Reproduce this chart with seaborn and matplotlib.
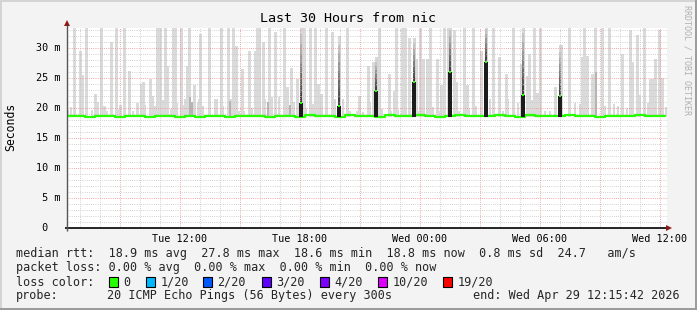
import numpy as np
import matplotlib
matplotlib.use("Agg")
import matplotlib.pyplot as plt
import seaborn as sns
from matplotlib.patches import Rectangle
from matplotlib.ticker import MultipleLocator, FuncFormatter

# ---------------- data (time = hours since Tue 00:00) ----------------
x_start, x_end = 6.35, 36.35
tick_hours = [12, 18, 24, 30, 36]
tick_labels = ["Tue 12:00", "Tue 18:00", "Wed 00:00", "Wed 06:00", "Wed 12:00"]
y_ticks = [0, 5, 10, 15, 20, 25, 30]
y_tick_labels = [" 0", " 5 m", "10 m", "15 m", "20 m", "25 m", "30 m"]

# tall smoke columns: time and max rtt (ms)
smoke_t = [6.725, 7.025, 7.1, 7.3, 7.75, 7.85, 8.05, 8.2, 8.55, 8.8, 9.2, 9.45,
           9.85, 10.05, 10.15, 10.5, 10.6, 10.875, 11.0, 11.1, 11.25, 11.35, 11.65,
           11.75, 12.05, 12.25, 12.35, 12.45, 12.7, 12.95, 13.025, 13.45, 13.8,
           14.05, 14.4, 14.65, 14.8, 15.1, 15.45, 15.75, 15.85, 15.95, 16.15, 16.45,
           16.75, 17.2, 17.35, 17.55, 17.85, 18.2, 18.5, 18.75, 18.9, 19.05, 19.3,
           19.6, 20.35, 20.95, 21.4, 21.65, 21.95, 22.45, 22.7, 22.8, 23.1, 23.25,
           23.45, 23.8, 24.0, 24.15, 24.35, 24.5, 24.85, 25.05, 25.2, 25.4, 25.7,
           25.8, 26.2, 26.35, 26.65, 27.05, 27.65, 27.95, 28.3, 28.65, 29.05, 29.35,
           29.45, 29.7, 29.85, 30.0, 30.75, 31.05, 31.45, 32.1, 32.2, 32.4, 32.65,
           32.8, 33.1, 33.45, 34.15, 34.5, 34.6, 34.85, 35.2, 35.5, 35.65, 35.8,
           35.95, 36.15]
smoke_max = [34.0, 29.6, 25.5, 34.0, 22.4, 21.0, 34.0, 20.4, 31.0, 34.0, 34.0, 26.3,
             20.8, 24.1, 24.3, 24.9, 22.0, 34.0, 34.0, 21.3, 34.0, 27.1, 34.0,
             34.0, 34.0, 21.5, 27.0, 34.0, 23.9, 21.5, 32.4, 34.0, 21.5,
             34.0, 34.0, 34.0, 30.4, 26.5, 29.6, 29.6, 34.0, 34.0, 31.0, 34.0,
             32.7, 34.0, 23.5, 26.8, 24.9, 34.0, 34.0, 34.0, 24.1, 22.4, 34.0,
             32.7, 34.0, 22.0, 27.1, 27.7, 34.0, 25.7, 22.9, 34.0, 34.0, 34.0,
             31.8, 28.2, 34.0, 28.3, 28.3, 34.0, 28.2, 23.9, 34.0, 34.0, 33.0,
             24.3, 34.0, 23.9, 34.0, 29.5, 34.0, 28.5, 25.7, 34.0, 27.4, 25.4,
             29.1, 34.0, 22.5, 34.0, 23.5, 30.5, 34.0, 28.5, 34.0, 28.8, 25.7,
             34.0, 34.0, 34.0, 29.1, 33.0, 27.7, 32.2, 34.0, 24.9, 24.9, 28.2,
             33.0, 25.1]

# low smoke just above the median
small_t = [6.4, 6.55, 7.6, 7.9, 8.35, 8.6, 8.95, 9.03, 9.65, 10.25, 10.75, 11.55,
           11.85, 12.15, 12.9, 13.15, 13.75, 14.15, 14.55, 14.95, 15.2, 15.6, 16.25,
           16.6, 16.95, 17.7, 18.3, 18.65, 19.75, 20.15, 20.5, 20.85, 21.15, 21.5,
           22.1, 22.55, 22.9, 23.95, 24.65, 24.95, 25.95, 26.45, 26.8, 27.5, 28.15,
           28.4, 28.9, 29.6, 30.25, 30.5, 31.75, 32.0, 33.25, 33.7, 33.9, 34.35,
           35.0, 35.4, 36.3]
small_max = [19.7, 20.2, 19.7, 21.0, 19.5, 19.4, 19.8, 20.5, 19.5, 20.5, 20.3, 19.8,
             20.8, 20.6, 20.8, 20.3, 21.5, 20.3, 21.5, 19.6, 19.6, 20.1, 21.6,
             21.8, 21.8, 21.0, 20.1, 20.7, 21.6, 21.5, 19.6, 19.5, 19.4, 20.8,
             19.9, 19.6, 19.7, 19.6, 20.2, 19.5, 19.6, 20.0, 20.3, 21.5, 19.6,
             21.6, 20.8, 21.4, 19.6, 19.5, 20.8, 20.7, 20.3, 20.7, 20.3, 20.0,
             22.2, 20.8, 20.2]

# denser (mid-gray) smoke
mid_t = [12.5, 12.6, 14.5, 16.4, 17.5, 32.8]
mid_max = [21.8, 21.0, 21.2, 21.0, 20.5, 26.0]

# median rtt excursions
spike_t = [18.05, 19.95, 21.8, 23.7, 25.5, 27.3, 29.15, 31.0]
spike_median = [20.9, 20.3, 22.9, 24.3, 26.0, 27.8, 22.2, 22.0]
spike_max = [34.0, 32.1, 28.5, 31.8, 34.0, 34.0, 34.0, 30.5]

# baseline median rtt, half-hourly
median_t = np.arange(6.25, 36.3, 0.5)
median_base = [18.7, 18.7, 18.6, 18.7, 18.7, 18.6, 18.7, 18.7, 18.6, 18.7, 18.7,
               18.6, 18.7, 18.6, 18.7, 18.7, 18.6, 18.7, 18.7, 18.7, 18.6, 18.7,
               18.7, 18.6, 18.8, 18.7, 18.7, 18.6, 18.8, 18.7, 18.7, 18.6, 18.8,
               18.7, 18.7, 18.8, 18.7, 18.6, 18.7, 18.9, 18.7, 18.7, 18.7, 18.9,
               18.7, 18.6, 18.8, 18.7, 18.7, 18.7, 18.8, 18.7, 18.7, 18.6, 18.7,
               18.7, 18.7, 18.8, 18.7, 18.7, 18.7]

rtt_stats = [18.9, 27.8, 18.6, 18.8]   # avg, max, min, now (ms)
rtt_sd = 0.8
rtt_ams = 24.7
loss_stats = [0.00, 0.00, 0.00, 0.00]
loss_labels = ["0", "1/20", "2/20", "3/20", "4/20", "10/20", "19/20"]
loss_colors = ["#26ff00", "#00b8ff", "#0059ff", "#5e00ff", "#7e00ff", "#dd00ff", "#ff0000"]
probe_text = "20 ICMP Echo Pings (56 Bytes) every 300s"
end_text = "end: Wed Apr 29 12:15:42 2026"
title_text = "Last 30 Hours from nic"

# ---------------- figure ----------------
sns.set_theme(style="white")
MONO = "DejaVu Sans Mono"
plt.rcParams["font.family"] = [MONO, "DejaVu Sans"]

W, H = 697, 310
fig = plt.figure(figsize=(W / 100, H / 100), dpi=100)
fig.patch.set_facecolor("#f3f3f3")

def fx(px):
    return px / W

def fy(py):
    return 1 - py / H

ax = fig.add_axes([fx(67), fy(228), 600 / W, 200 / H])
ax.set_facecolor("white")
ax.set_xlim(x_start, x_end)
ax.set_ylim(0, 33.4)
for s in ax.spines.values():
    s.set_visible(False)

base = 18.5
# light smoke
ax.bar(small_t, np.array(small_max) - base, bottom=base, width=0.12,
       color="#dadada", lw=0, zorder=1)
ax.bar(smoke_t, np.array(smoke_max) - base, bottom=base, width=0.15,
       color="#dadada", lw=0, zorder=1)
ax.bar(mid_t, np.array(mid_max) - base, bottom=base, width=0.1,
       color="#b4b4b4", lw=0, zorder=1.2)

# smoke above the elevated medians (fading gradient)
sm = np.array(spike_median)
sx = np.array(spike_max)
ax.bar(spike_t, sx - sm, bottom=sm, width=0.15, color="#d4d4d4", lw=0, zorder=1.3)
nseg = 8
for k in range(nseg):
    shade = 0.25 + 0.6 * k / (nseg - 1)
    ax.bar(spike_t, (sx - sm) / nseg, bottom=sm + (sx - sm) * k / nseg,
           width=0.07, color=(shade, shade, shade), lw=0, zorder=1.4)

# grid
ax.xaxis.set_major_locator(MultipleLocator(3))
ax.xaxis.set_minor_locator(MultipleLocator(1))
ax.yaxis.set_major_locator(MultipleLocator(5))
ax.yaxis.set_minor_locator(MultipleLocator(1))
ax.grid(which="minor", color="#c4c4c4", linestyle=(0, (0.72, 1.44)), lw=0.72, zorder=2)
ax.grid(which="major", color="#f28c8c", linestyle=(0, (0.72, 1.44)), lw=0.72, zorder=2.1)
ax.set_axisbelow(False)

# median line
sns.lineplot(x=median_t, y=median_base, drawstyle="steps-post", color="#26ff00",
             lw=1.6, estimator=None, ax=ax, zorder=3)
ax.bar(spike_t, sm - 18.6, bottom=18.6, width=0.16, color="#1c1c1c", lw=0, zorder=3.2)
ax.plot(spike_t, spike_median, ls="none", marker="s", ms=2.0, mew=0,
        color="#26ff00", zorder=3.4)

# ticks
lab_map = dict(zip(tick_hours, tick_labels))
ax.xaxis.set_major_formatter(FuncFormatter(lambda v, p: lab_map.get(int(round(v)), "")
                                           if abs(v - round(v)) < 1e-6 else ""))
ax.tick_params(axis="x", which="major", length=2.2, width=0.8, color="#e07070",
               pad=2.2, labelsize=7.3, labelcolor="black", direction="out")
ax.tick_params(axis="y", which="major", length=2.2, width=0.8, color="#e07070",
               labelleft=False, direction="out")
ax.tick_params(which="minor", length=0)
for lbl in ax.get_xticklabels():
    lbl.set_fontfamily(MONO)
ytr = ax.get_yaxis_transform()
for v, s in zip(y_ticks, y_tick_labels):
    ax.text((36 - 67) / 600, v, s, transform=ytr, ha="left", va="center",
            fontsize=7.3, family=MONO, color="black")

# axes with arrows
ax.plot([-0.003, 1.004], [0, 0], transform=ax.transAxes, color="black", lw=1.2,
        clip_on=False, zorder=5, solid_capstyle="butt")
ax.plot([0, 0], [-0.015, 1.02], transform=ax.transAxes, color="#555555", lw=1.0,
        clip_on=False, zorder=5, solid_capstyle="butt")
ax.plot([1.0035], [0], transform=ax.transAxes, marker=">", ms=4.5, mew=0,
        color="#8b1a1a", clip_on=False, zorder=6)
ax.plot([0], [1.025], transform=ax.transAxes, marker="^", ms=4.5, mew=0,
        color="#8b1a1a", clip_on=False, zorder=6)

# title, axis label, watermark
fig.text(fx(348), fy(19), title_text, ha="center", va="center", fontsize=9.6,
         family=MONO, color="black")
fig.text(fx(10.5), fy(127), "Seconds", rotation=90, ha="center", va="center",
         fontsize=8.3, family=MONO, color="black")
fig.text(fx(687.5), fy(60), "RRDTOOL / TOBI OETIKER", rotation=270, ha="center",
         va="center", fontsize=6.0, family=MONO, color="#b0b0b0")

# legend lines
FS = 8.5
x0 = 16
line1 = ("median rtt:  %.1f ms avg  %.1f ms max  %.1f ms min  %.1f ms now  %.1f ms sd  %.1f   am/s"
         % (rtt_stats[0], rtt_stats[1], rtt_stats[2], rtt_stats[3], rtt_sd, rtt_ams))
line2 = ("packet loss: %.2f %% avg  %.2f %% max  %.2f %% min  %.2f %% now"
         % tuple(loss_stats))
fig.text(fx(x0), fy(254), line1, ha="left", va="center", fontsize=FS, family=MONO)
fig.text(fx(x0), fy(268), line2, ha="left", va="center", fontsize=FS, family=MONO)
fig.text(fx(x0), fy(282), "loss color:", ha="left", va="center", fontsize=FS, family=MONO)
box_px = [109, 146, 203, 262, 320, 378, 443]
for bx, lab, col in zip(box_px, loss_labels, loss_colors):
    fig.patches.append(Rectangle((fx(bx), fy(286.5)), 8.5 / W, 9.5 / H,
                                 transform=fig.transFigure, facecolor=col,
                                 edgecolor="black", lw=0.8))
    fig.text(fx(bx + 14.5), fy(282), lab, ha="left", va="center", fontsize=FS, family=MONO)
fig.text(fx(x0), fy(296), "probe:", ha="left", va="center", fontsize=FS, family=MONO)
fig.text(fx(107), fy(296), probe_text, ha="left", va="center", fontsize=FS, family=MONO)
fig.text(fx(680), fy(296), end_text, ha="right", va="center", fontsize=FS, family=MONO)

# frame shading
fig.patches.append(Rectangle((0, 1 - 2 / H), 1, 2 / H, transform=fig.transFigure,
                             facecolor="#d4d4d4", lw=0))
fig.patches.append(Rectangle((0, 0), 2 / W, 1, transform=fig.transFigure,
                             facecolor="#d4d4d4", lw=0))
fig.patches.append(Rectangle((0, 0), 1, 2 / H, transform=fig.transFigure,
                             facecolor="#9c9c9c", lw=0))
fig.patches.append(Rectangle((1 - 2 / W, 0), 2 / W, 1, transform=fig.transFigure,
                             facecolor="#9c9c9c", lw=0))

fig.savefig("out.png", dpi=100, facecolor=fig.get_facecolor())
